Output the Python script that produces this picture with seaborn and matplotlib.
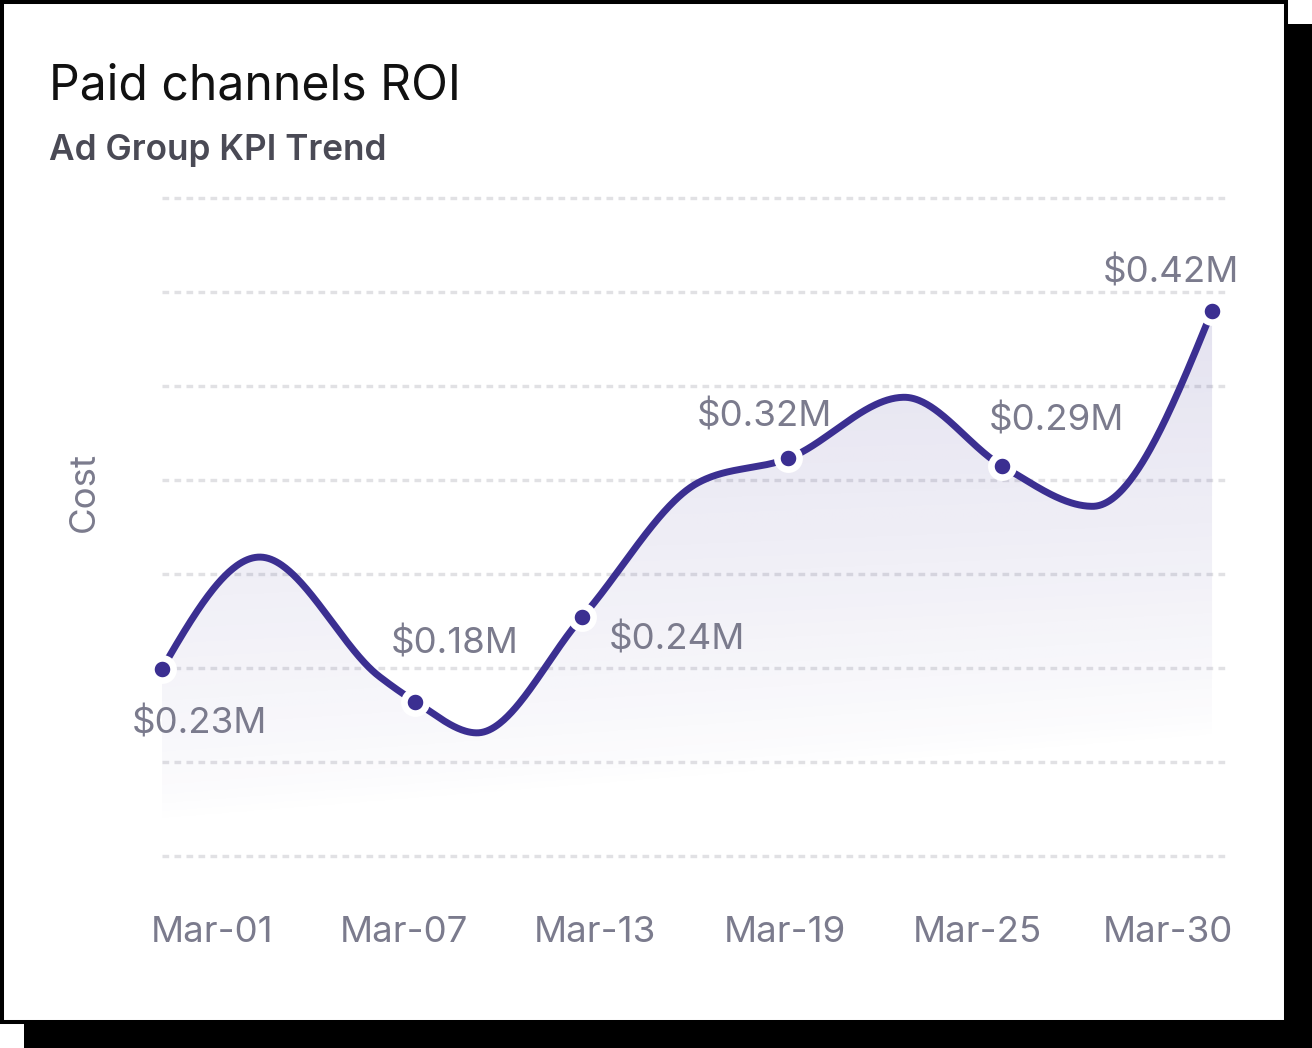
import numpy as np
import pandas as pd
import matplotlib
matplotlib.use("Agg")
import matplotlib.pyplot as plt
from matplotlib.patches import Rectangle
import seaborn as sns

# data (x in days from Mar-01, cost in grid steps)
day = [0.0, 2.7, 6.0, 7.0, 8.7, 11.6, 14.8, 17.3, 20.5, 23.2, 25.7, 29.0]
cost = [1.99, 3.18, 1.91, 1.64, 1.31, 2.54, 3.97, 4.23, 4.88, 4.15, 3.72, 5.80]
marker_idx = [0, 3, 5, 7, 9, 11]
marker_labels = ["$0.23M", "$0.18M", "$0.24M", "$0.32M", "$0.29M", "$0.42M"]
tick_days = [1.38, 6.68, 11.96, 17.21, 22.51, 27.78]
tick_labels = ["Mar-01", "Mar-07", "Mar-13", "Mar-19", "Mar-25", "Mar-30"]
grid_levels = [0, 1, 2, 3, 4, 5, 6, 7]

# label offsets in pixels (style only)
label_offsets = [(37, -65), (39, 48), (95, -32), (-24, 32), (54, 35), (-41, 28)]

LINE = "#3b2f91"
GREY = "#7b7b8d"


def monotone_curve(x, y, n=800):
	"""d3 curveMonotoneX style smoothing of the line path."""
	x = np.asarray(x, float)
	y = np.asarray(y, float)
	h = np.diff(x)
	s = np.diff(y) / h
	t = np.zeros(len(x))
	for i in range(1, len(x) - 1):
		p = (s[i - 1] * h[i] + s[i] * h[i - 1]) / (h[i - 1] + h[i])
		t[i] = (np.sign(s[i - 1]) + np.sign(s[i])) * min(abs(s[i - 1]), abs(s[i]), 0.5 * abs(p))
	t[0] = (3 * s[0] - t[1]) / 2
	t[-1] = (3 * s[-1] - t[-2]) / 2
	xs = np.linspace(x[0], x[-1], n)
	k = np.clip(np.searchsorted(x, xs, side="right") - 1, 0, len(x) - 2)
	u = (xs - x[k]) / h[k]
	h00 = 2 * u**3 - 3 * u**2 + 1
	h10 = u**3 - 2 * u**2 + u
	h01 = -2 * u**3 + 3 * u**2
	h11 = u**3 - u**2
	ys = h00 * y[k] + h10 * h[k] * t[k] + h01 * y[k + 1] + h11 * h[k] * t[k + 1]
	return xs, ys


sns.set_theme(style="white")
plt.rcParams["font.family"] = ["Inter", "DejaVu Sans"]

fig = plt.figure(figsize=(13.12, 10.48), dpi=100)
fig.patch.set_facecolor("white")

# card with offset black shadow
W, H = 1312, 1048
fig.add_artist(Rectangle((24 / W, 0), (W - 24) / W, (H - 24) / H, transform=fig.transFigure,
						 facecolor="black", edgecolor="none", zorder=-20))
fig.add_artist(Rectangle((2 / W, 26 / H), 1284 / W, 1020 / H, transform=fig.transFigure,
						 facecolor="white", edgecolor="black", linewidth=2.9, zorder=-19))

ax = fig.add_axes([162 / W, 1 - 860.7 / H, 1066 / W, 667.4 / H])
ax.patch.set_visible(False)

xs, ys = monotone_curve(day, cost)
df_line = pd.DataFrame({"day": xs, "cost": ys})
df_pts = pd.DataFrame({"day": [day[i] for i in marker_idx], "cost": [cost[i] for i in marker_idx]})

# gradient area under the line
xlim = (0, 29.44)
ylim = (-0.05, 7.05)
gx = np.linspace(xlim[0], xlim[1], 300)
gy = np.linspace(ylim[0], ylim[1], 300)
GX, GY = np.meshgrid(gx, gy)
v0 = 0.35 + 0.031 * GX
alpha = 0.14 * np.clip((GY - v0) / (5.9 - v0), 0, 1) ** 0.75
rgba = np.zeros(GX.shape + (4,))
rgba[..., :3] = matplotlib.colors.to_rgb(LINE)
rgba[..., 3] = alpha
img = ax.imshow(rgba, extent=(xlim[0], xlim[1], ylim[0], ylim[1]), origin="lower", aspect="auto", zorder=1)
area = ax.fill_between(xs, ys, 0, facecolor="none", edgecolor="none")
img.set_clip_path(area.get_paths()[0], transform=ax.transData)

sns.lineplot(data=df_line, x="day", y="cost", color=LINE, linewidth=5, ax=ax, zorder=3,
			 clip_on=False, solid_capstyle="round", sort=False)
sns.scatterplot(data=df_pts, x="day", y="cost", color=LINE, s=255, edgecolor="white", linewidth=4.8,
				ax=ax, zorder=4, clip_on=False)

for i, lab, off in zip(marker_idx, marker_labels, label_offsets):
	ax.annotate(lab, (day[i], cost[i]), xytext=off, textcoords="offset pixels", ha="center",
				va="baseline", fontsize=26.4, color=GREY, zorder=5)

ax.set_xlim(*xlim)
ax.set_ylim(*ylim)
ax.set_yticks(grid_levels)
ax.set_yticklabels([])
ax.set_xticks(tick_days, tick_labels)
ax.tick_params(axis="x", length=0, pad=40, labelsize=26.4, labelcolor=GREY)
ax.tick_params(axis="y", length=0)
ax.grid(axis="y", color="#e1e1e4", linewidth=2.4, linestyle=(0, (2.0, 1.6)))
ax.grid(axis="x", visible=False)
ax.set_axisbelow(True)
sns.despine(ax=ax, left=True, bottom=True)

ax.set_xlabel("")
ax.set_ylabel("Cost", fontsize=26.4, color=GREY)
ax.yaxis.set_label_coords((100.5 - 162) / 1066, (860.7 - 492) / 667.4)

fig.text(49 / W, 1 - 100 / H, "Paid channels ROI", fontsize=34.6, color="#111111", va="baseline", ha="left")
fig.text(49 / W, 1 - 160 / H, "Ad Group KPI Trend", fontsize=25.3, fontweight=600, color="#4a4a55",
		 va="baseline", ha="left")

fig.savefig("out.png", dpi=100)
plt.close(fig)
